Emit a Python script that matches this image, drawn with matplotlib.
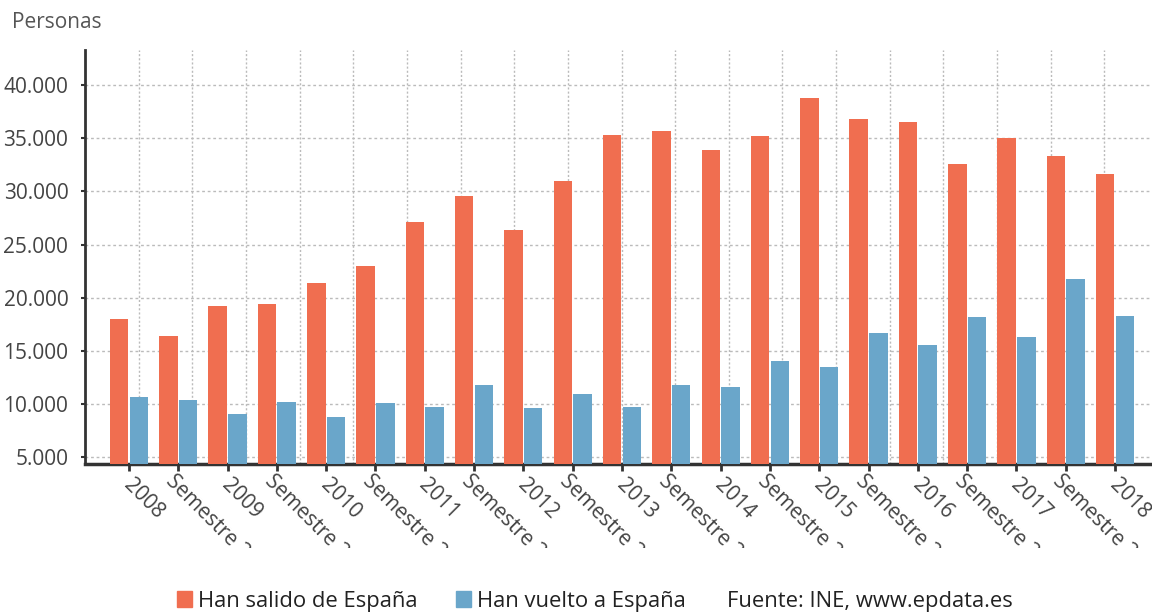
import numpy as np
import matplotlib.pyplot as plt
from matplotlib.patches import Patch
from matplotlib.transforms import Bbox, ScaledTranslation

plt.rcParams["font.family"] = ["Open Sans", "DejaVu Sans"]

categories = [
    "2008", "Semestre 2", "2009", "Semestre 2", "2010", "Semestre 2", "2011",
    "Semestre 2", "2012", "Semestre 2", "2013", "Semestre 2", "2014",
    "Semestre 2", "2015", "Semestre 2", "2016", "Semestre 2", "2017",
    "Semestre 2", "2018",
]
salido = [
    18000, 16400, 19200, 19450, 21400, 23000, 27150, 29600, 26350, 30950,
    35300, 35700, 33900, 35200, 38750, 36850, 36550, 32550, 35000, 33350, 31600,
]
vuelto = [
    10700, 10330, 9100, 10170, 8800, 10050, 9670, 11800, 9580, 10980,
    9730, 11800, 11550, 14060, 13520, 16720, 15530, 18190, 16310, 21790, 18260,
]
yticks = [5000, 10000, 15000, 20000, 25000, 30000, 35000, 40000]

ORANGE = "#F06E50"
BLUE = "#6AA6CA"
W, H = 1152, 613

fig = plt.figure(figsize=(W / 100, H / 100), dpi=100)
ax = fig.add_axes([85 / W, (H - 464) / H, (1158 - 85) / W, (464 - 50) / H])

x = np.arange(len(categories))
ax.bar(x - 0.2, salido, 0.375, color=ORANGE, zorder=3)
ax.bar(x + 0.2, vuelto, 0.375, color=BLUE, zorder=3)

x0, x1 = -0.89, 20.87
ax.set_xlim(x0, x1)
ax.set_ylim(4350, 43300)

# horizontal grid on the value ticks, vertical grid is a fixed 20-part split
ax.set_yticks(yticks, [f"{v:,}".replace(",", ".") for v in yticks])
ax.yaxis.grid(True, linestyle=(0, (2, 2)), color="#bbbbbb", linewidth=1, zorder=1)
for k in range(1, 20):
    ax.axvline(x0 + (x1 - x0) * k / 20, linestyle=(0, (1.5, 1.5)),
               color="#bbbbbb", linewidth=1, zorder=1)

for side in ("top", "right"):
    ax.spines[side].set_visible(False)
ax.spines["left"].set_color("#333333")
ax.spines["left"].set_linewidth(2)
ax.spines["bottom"].set_color("#333333")
ax.spines["bottom"].set_linewidth(2.5)
ax.spines["bottom"].set_zorder(2)

ax.tick_params(axis="y", length=3, width=1.5, color="#333333", pad=9,
               labelsize=15, labelcolor="#444444")
ax.tick_params(axis="x", length=5, width=2, color="#333333", pad=4,
               labelsize=15, labelcolor="#444444")
ax.set_xticks(x, categories, rotation=-45, ha="left", va="top",
              rotation_mode="anchor")

# years sit lower/right of their tick than the "Semestre 2" labels,
# and everything is cut off at the bottom like in the source
clip = Bbox.from_extents(0, H - 548, W, H)
for lab in ax.get_xticklabels():
    if lab.get_text().startswith("Semestre"):
        dx, dy = -2, 6
    else:
        dx, dy = 5, 2
    lab.set_transform(lab.get_transform()
                      + ScaledTranslation(dx / 100, dy / 100, fig.dpi_scale_trans))
    lab.set_clip_box(clip)
    lab.set_clip_on(True)

fig.text(12 / W, 1 - 22 / H, "Personas", ha="left", va="center",
         fontsize=15, color="#555555")

fig.legend(
    handles=[Patch(color=ORANGE), Patch(color=BLUE)],
    labels=["Han salido de España", "Han vuelto a España"],
    loc="center left", bbox_to_anchor=(177 / W, 1 - 601 / H),
    ncol=2, frameon=False, fontsize=15.8, labelcolor="#222222",
    handlelength=0.7, handleheight=0.7, handletextpad=0.25,
    columnspacing=1.75, borderpad=0, borderaxespad=0,
)
fig.text(727 / W, 1 - 601 / H, "Fuente: INE, www.epdata.es", ha="left",
         va="center", fontsize=15.8, color="#222222")

fig.savefig("out.png", dpi=100)
